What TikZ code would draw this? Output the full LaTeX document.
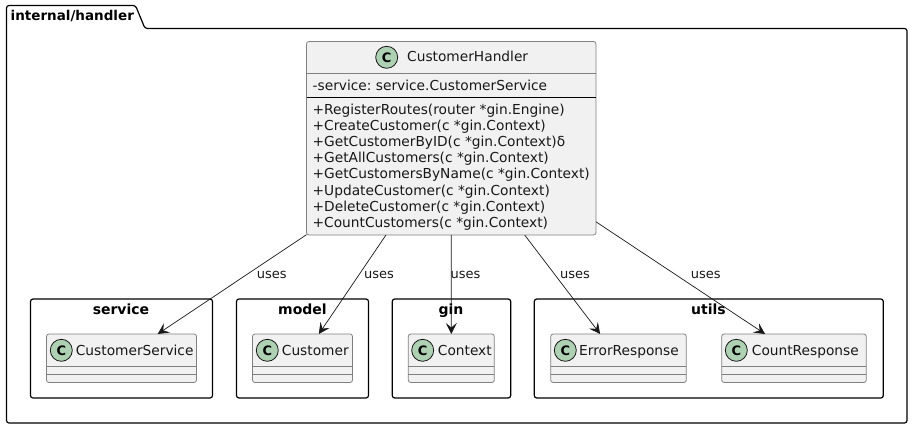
\documentclass[tikz,border=0pt]{standalone}
\usepackage{fontspec}
\setmainfont{DejaVu Sans}
\frenchspacing
\usetikzlibrary{arrows.meta}

\definecolor{boxfill}{HTML}{F1F1F1}
\definecolor{spotfill}{HTML}{ADD1B2}
\definecolor{inkline}{HTML}{181818}

\tikzset{
	pkgbox/.style={draw=black, line width=1.2pt, rounded corners=2.5pt},
	pkgtitle/.style={font=\fontsize{14}{14}\selectfont\bfseries, anchor=base, inner sep=0pt, text=black},
	classbox/.style={draw=black!50, fill=boxfill, line width=0.8pt, rounded corners=2.5pt, outer sep=0pt, inner sep=0pt},
	classsep/.style={draw=black!50, line width=0.8pt},
	classname/.style={font=\fontsize{13.75}{14}\selectfont, anchor=base west, inner sep=0pt, text=inkline},
	member/.style={font=\fontsize{13.75}{14}\selectfont, anchor=base west, inner sep=0pt, text=inkline},
	spot/.style={circle, draw=inkline, fill=spotfill, line width=0.8pt, minimum size=22pt, inner sep=0pt, font=\fontsize{13}{13}\selectfont\bfseries},
	uses/.style={draw=inkline, line width=0.7pt, -{Stealth[length=11pt, width=11pt, inset=4.5pt]}},
	useslabel/.style={font=\fontsize{13}{13}\selectfont, anchor=base, inner sep=0pt, text=inkline}
}

\begin{document}
\begin{tikzpicture}[x=1pt, y=-1pt]
	\useasboundingbox (0,0) rectangle (913,428);

	% package frames
	\draw [pkgbox] (6.5,28.5) -- (6.5,5.5) -- (135.5,5.5) -- (145,28.5) -- (907,28.5) -- (907,423) -- (6.5,423) -- cycle;
	\node [pkgtitle, font=\fontsize{13.5}{14}\selectfont\bfseries, anchor=base west] (handlerpkg) at (10.5,20.7) {internal/handler};

	\draw [pkgbox] (30.5,299) rectangle (212.5,398);
	\node [pkgtitle] (servicepkg) at (121,314) {service};
	\draw [pkgbox] (236.5,299) rectangle (368.5,398);
	\node [pkgtitle] (modelpkg) at (302.5,314) {model};
	\draw [pkgbox] (392.3,299) rectangle (510.7,398);
	\node [pkgtitle] (ginpkg) at (451,314) {gin};
	\draw [pkgbox] (534.3,299) rectangle (883.3,398);
	\node [pkgtitle] (utilspkg) at (708.5,314) {utils};

	% classes
	\node [classbox, minimum width=289.5pt, minimum height=193.5pt] (handler) at (451.25,138.25) {};
	\draw [classsep] (306.5,73.5) -- (596,73.5);
	\draw [black, line width=0.9pt] (306.5,97) -- (596,97);
	\node [spot] (handlerspot) at (386.7,57.3) {C};
	\node [classname] (handlername) at (407,62) {CustomerHandler};
	\node [member] (field) at (312.5,90) {-service: service.CustomerService};
	\node [member] (routes) at (312.5,114) {+RegisterRoutes(router *gin.Engine)};
	\node [member] (create) at (312.5,130.3) {+CreateCustomer(c *gin.Context)};
	\node [member] (byid) at (312.5,146.4) {+GetCustomerByID(c *gin.Context)δ};
	\node [member] (getall) at (312.5,162.5) {+GetAllCustomers(c *gin.Context)};
	\node [member] (byname) at (312.5,178.7) {+GetCustomersByName(c *gin.Context)};
	\node [member] (update) at (312.5,195) {+UpdateCustomer(c *gin.Context)};
	\node [member] (delete) at (312.5,211) {+DeleteCustomer(c *gin.Context)};
	\node [member] (count) at (312.5,227) {+CountCustomers(c *gin.Context)};

	\node [classbox, minimum width=150pt, minimum height=48.5pt] (service) at (121.5,358.25) {};
	\draw [classsep] (46.5,366.5) -- (196.5,366.5);
	\draw [classsep] (46.5,374.5) -- (196.5,374.5);
	\node [spot] (servicespot) at (61.3,350.3) {C};
	\node [classname] (servicename) at (75.7,355) {CustomerService};

	\node [classbox, minimum width=100pt, minimum height=48.5pt] (customer) at (302.5,358.25) {};
	\draw [classsep] (252.5,366.5) -- (352.5,366.5);
	\draw [classsep] (252.5,374.5) -- (352.5,374.5);
	\node [spot] (customerspot) at (267.3,350.3) {C};
	\node [classname] (customername) at (281.7,355) {Customer};

	\node [classbox, minimum width=86pt, minimum height=48.5pt] (context) at (451.3,358.25) {};
	\draw [classsep] (408.3,366.5) -- (494.3,366.5);
	\draw [classsep] (408.3,374.5) -- (494.3,374.5);
	\node [spot] (contextspot) at (422.7,350.3) {C};
	\node [classname] (contextname) at (437.7,355) {Context};

	\node [classbox, minimum width=135.6pt, minimum height=48.5pt] (error) at (618.5,358.25) {};
	\draw [classsep] (550.7,366.5) -- (686.3,366.5);
	\draw [classsep] (550.7,374.5) -- (686.3,374.5);
	\node [spot] (errorspot) at (565.3,350.3) {C};
	\node [classname] (errorname) at (579,355) {ErrorResponse};

	\node [classbox, minimum width=144.6pt, minimum height=48.5pt] (countresp) at (794,358.25) {};
	\draw [classsep] (721.7,366.5) -- (866.3,366.5);
	\draw [classsep] (721.7,374.5) -- (866.3,374.5);
	\node [spot] (countspot) at (736.3,350.3) {C};
	\node [classname] (countname) at (751.7,355) {CountResponse};

	% connectors
	\draw [uses] (handler) -- (service);
	\draw [uses] (handler) -- (customer);
	\draw [uses] (handler) -- (context);
	\draw [uses] (handler) -- (error);
	\draw [uses] (handler.-30.3) -- (countresp.140.1);

	\node [useslabel] (usesservice) at (271.7,278.7) {uses};
	\node [useslabel] (usesmodel) at (379,278.7) {uses};
	\node [useslabel] (usesgin) at (465.5,278.7) {uses};
	\node [useslabel] (useserror) at (575,278.7) {uses};
	\node [useslabel] (usescount) at (705.7,278.7) {uses};
\end{tikzpicture}
\end{document}
